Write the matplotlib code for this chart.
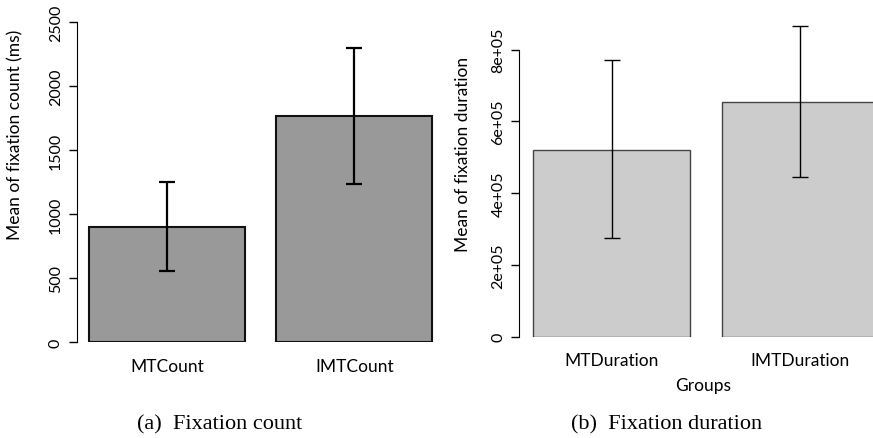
import numpy as np
import matplotlib.pyplot as plt

# dados
grupos_a = ['MTCount', 'IMTCount']
media_a = [903, 1770]
erro_a_baixo = [347, 536]
erro_a_cima = [352, 530]

grupos_b = ['MTDuration', 'IMTDuration']
media_b = [521000, 654000]
erro_b_baixo = [247000, 208000]
erro_b_cima = [249000, 211000]

# posicoes das barras (estilo barplot do R: largura 1, espaco 0.2)
pos = [0.7, 1.9]

sans = ['Lato', 'DejaVu Sans']
serif = ['Liberation Serif', 'DejaVu Serif']
W, H = 873, 439

fig = plt.figure(figsize=(8.73, 4.39), dpi=100)

# painel (a)
ax1 = fig.add_axes([76.7/W, (H-343.3)/H, (440-76.7)/W, (343.3-10)/H])
ax1.bar(pos, media_a, width=1.0, color='#999999', edgecolor='#111111',
        linewidth=1.5)
ax1.errorbar(pos, media_a, yerr=[erro_a_baixo, erro_a_cima], fmt='none',
             ecolor='black', elinewidth=1.6, capsize=6, capthick=1.6)
ax1.set_xlim(0.119, 2.449)
ax1.set_ylim(0, (343.3-10)/0.128)
ax1.set_yticks([0, 500, 1000, 1500, 2000, 2500])
ax1.set_xticks(pos)
ax1.set_xticklabels(grupos_a, family=sans, fontsize=12.5)
ax1.set_ylabel('Mean of fixation count (ms)', family=sans, fontsize=12.5,
               va='center')
ax1.yaxis.set_label_coords(15/W, 1-135/H, transform=fig.transFigure)
for lab in ax1.get_yticklabels():
    lab.set_rotation(90)
    lab.set_va('center')
    lab.set_family(sans)
    lab.set_fontsize(11.5)
ax1.spines['left'].set_bounds(0, 2500)
for s in ['top', 'right', 'bottom']:
    ax1.spines[s].set_visible(False)
ax1.tick_params(axis='x', length=0, pad=11)
ax1.tick_params(axis='y', length=6, width=1, pad=4)

# painel (b)
ax2 = fig.add_axes([519.3/W, (H-337.7)/H, (W-519.3)/W, (337.7-10)/H])
ax2.bar(pos, media_b, width=1.0, color='#cccccc', edgecolor='#444444',
        linewidth=1.0)
ax2.errorbar(pos, media_b, yerr=[erro_b_baixo, erro_b_cima], fmt='none',
             ecolor='black', elinewidth=1.0, capsize=6, capthick=1.0)
ax2.set_xlim(0.111, 2.364)
ax2.set_ylim(0, (337.7-10)/3.5875e-4)
ax2.set_yticks([0, 200000, 400000, 600000, 800000])
ax2.set_yticklabels(['0', '2e+05', '4e+05', '6e+05', '8e+05'])
ax2.set_xticks(pos)
ax2.set_xticklabels(grupos_b, family=sans, fontsize=12.5)
ax2.set_xlabel('Groups', family=sans, fontsize=12.5, va='center')
ax2.xaxis.set_label_coords(702.7/W, 1-385.7/H, transform=fig.transFigure)
ax2.set_ylabel('Mean of fixation duration', family=sans, fontsize=12.5,
               va='center')
ax2.yaxis.set_label_coords(463.3/W, 1-154/H, transform=fig.transFigure)
for lab in ax2.get_yticklabels():
    lab.set_rotation(90)
    lab.set_va('center')
    lab.set_family(sans)
    lab.set_fontsize(11.5)
ax2.spines['left'].set_bounds(0, 800000)
for s in ['top', 'right', 'bottom']:
    ax2.spines[s].set_visible(False)
ax2.tick_params(axis='x', length=0, pad=11)
ax2.tick_params(axis='y', length=6, width=1, pad=4)

# legendas das figuras
fig.text(220/W, 1-425/H, '(a)  Fixation count', family=serif,
         fontsize=16, ha='center', va='center')
fig.text(667/W, 1-425/H, '(b)  Fixation duration', family=serif,
         fontsize=16, ha='center', va='center')

plt.savefig('out.png', dpi=100)
